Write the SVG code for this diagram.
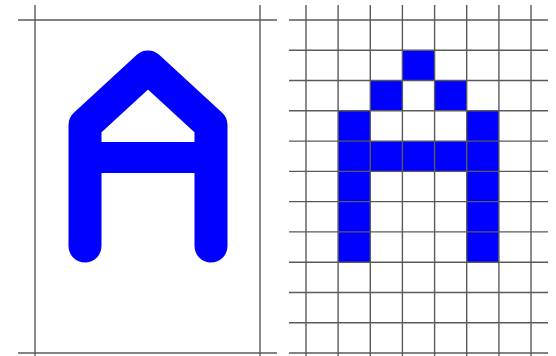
<svg xmlns="http://www.w3.org/2000/svg" width="556" height="356" viewBox="0 0 556 356">
<style>
.g{stroke:#5a5a5a;stroke-width:1.4;fill:none}
.c{fill:#0000ff}
</style>
<rect width="556" height="356" fill="#fff"/>
<g id="left-panel">
<path d="M85,246 L85,125 L148,67 L211,125 L211,246" fill="none" stroke="#0000ff" stroke-width="33" stroke-linecap="round" stroke-linejoin="round"/>
<line x1="85" y1="157.5" x2="211" y2="157.5" stroke="#0000ff" stroke-width="31"/>
<line class="g" x1="35" y1="5" x2="35" y2="356"/>
<line class="g" x1="260" y1="5" x2="260" y2="356"/>
<line class="g" x1="18" y1="20" x2="277" y2="20"/>
<line class="g" x1="18" y1="353" x2="277" y2="353"/>
</g>
<g id="right-panel">
<rect class="c" x="402.4" y="50.3" width="32.1" height="30.3"/>
<rect class="c" x="370.3" y="80.5" width="32.1" height="30.3"/>
<rect class="c" x="434.6" y="80.5" width="32.1" height="30.3"/>
<rect class="c" x="338.1" y="110.8" width="32.1" height="151.4"/>
<rect class="c" x="466.7" y="110.8" width="32.1" height="151.4"/>
<rect class="c" x="338.1" y="141.1" width="160.7" height="30.3"/>
<g class="g">
<line x1="306" y1="5" x2="306" y2="356"/>
<line x1="338.1" y1="5" x2="338.1" y2="356"/>
<line x1="370.3" y1="5" x2="370.3" y2="356"/>
<line x1="402.4" y1="5" x2="402.4" y2="356"/>
<line x1="434.6" y1="5" x2="434.6" y2="356"/>
<line x1="466.7" y1="5" x2="466.7" y2="356"/>
<line x1="498.9" y1="5" x2="498.9" y2="356"/>
<line x1="531" y1="5" x2="531" y2="356"/>
<line x1="289" y1="20" x2="548" y2="20"/>
<line x1="289" y1="50.3" x2="548" y2="50.3"/>
<line x1="289" y1="80.5" x2="548" y2="80.5"/>
<line x1="289" y1="110.8" x2="548" y2="110.8"/>
<line x1="289" y1="141.1" x2="548" y2="141.1"/>
<line x1="289" y1="171.4" x2="548" y2="171.4"/>
<line x1="289" y1="201.6" x2="548" y2="201.6"/>
<line x1="289" y1="231.9" x2="548" y2="231.9"/>
<line x1="289" y1="262.2" x2="548" y2="262.2"/>
<line x1="289" y1="292.5" x2="548" y2="292.5"/>
<line x1="289" y1="322.7" x2="548" y2="322.7"/>
<line x1="289" y1="353" x2="548" y2="353"/>
</g>
</g>
</svg>
